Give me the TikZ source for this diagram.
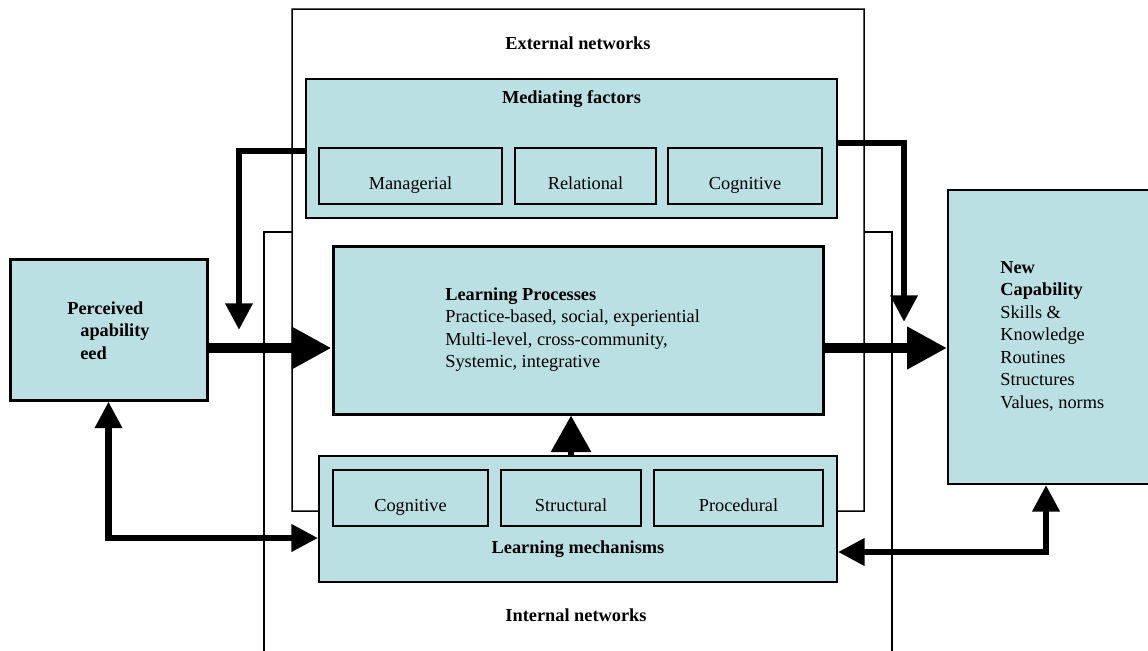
\documentclass[tikz,border=0pt]{standalone}
\usepackage{fontspec}
\setmainfont{Liberation Serif}
\usetikzlibrary{arrows.meta}
\definecolor{boxblue}{RGB}{187,224,227}

\begin{document}
\begin{tikzpicture}[
            x=0.6pt,
            y=-0.6pt,
            every node/.style={
                font=\fontsize{11}{13.5}\selectfont
            },
            box/.style={
                draw,
                fill=boxblue,
                line width=1.1pt,
                inner sep=0pt
            },
            subbox/.style={
                box,
                minimum height=33.6pt,
                text height=17pt,
                text depth=1.4pt
            },
            title/.style={
                font=\fontsize{11}{13.5}\selectfont\bfseries
            },
            frame/.style={line width=0.9pt},
            bigarrow/.style={
                line width=6.4pt,
                -{Triangle[length=24pt,width=24pt]}
            },
            fbarrow/.style={
                line width=4pt,
                -{Triangle[length=16pt,width=15.6pt]}
            },
            dblarrow/.style={
                line width=4pt,
                {Triangle[length=16pt,width=15.6pt]}-{Triangle[length=16pt,width=15.6pt]}
            },
            midarrow/.style={
                line width=4pt,
                -{Triangle[length=22pt,width=23.4pt]}
            }
        ]
            \useasboundingbox (0,0) rectangle (1148,650);

            \node[box, line width=1.8pt, minimum width=118.2pt, minimum height=84.6pt] (perc) at (108.5,329.5) {};
            \node[box, line width=0.9pt, minimum width=318.6pt, minimum height=83.4pt] (med) at (571.5,148.5) {};
            \node[subbox, minimum width=109.8pt] (manag) at (410.5,176) {Managerial};
            \node[subbox, minimum width=84.6pt] (relat) at (585.5,176) {Relational};
            \node[subbox, minimum width=92.4pt] (cogtop) at (745,176) {Cognitive};
            \node[box, line width=1.8pt, minimum width=294pt, minimum height=100.8pt] (lp) at (578,330) {};
            \node[box, minimum width=122.4pt, minimum height=176.4pt] (newcap) at (1050,337) {};
            \node[box, minimum width=310.8pt, minimum height=75.6pt] (mech) at (578,519) {};
            \node[subbox, minimum width=93pt] (cogbot) at (410.5,498) {Cognitive};
            \node[subbox, minimum width=84pt] (struct) at (571,498) {Structural};
            \node[subbox, minimum width=101.4pt] (proc) at (738.5,498) {Procedural};

            \node[title] (extt) at (578,43) {External networks};
            \node[title] (medt) at (571.5,99) {Mediating factors};
            \node[title] (mecht) at (578,549) {Learning mechanisms};
            \node[title] (intt) at (576,615) {Internal networks};
            \node[title, align=left, anchor=north west, inner sep=0pt] (perct) at (67,301)
                {Perceived\\\hspace*{7.8pt}apability\\\hspace*{7.8pt}eed};
            \node[align=left, anchor=north west, inner sep=0pt] (lpt) at (445,287)
                {\textbf{Learning Processes}\\Practice-based, social, experiential\\Multi-level, cross-community,\\Systemic, integrative};
            \node[align=left, anchor=north west, inner sep=0pt] (newt) at (1000,261)
                {\textbf{New}\\\textbf{Capability}\\Skills \&\\Knowledge\\Routines\\Structures\\Values, norms};

            \coordinate (extnw) at (292,9);
            \coordinate (extse) at (864,511);
            \coordinate (intnw) at (264,232);
            \coordinate (intne) at (892,232);
            \coordinate (bigy) at (0,348);
            \coordinate (fbltip) at (239,330);
            \coordinate (fbrtip) at (904,322);

            \draw[frame] ([yshift=4.8pt]mech.west) -| (extnw) -| (extse) -- ([yshift=4.8pt]mech.east);
            \draw[frame] (intnw -| extnw) -- (intnw) -- ++(0,420);
            \draw[frame] (intne -| extse) -- (intne) -- ++(0,420);

            \draw[bigarrow] (perc.east |- bigy) -- (lp.west |- bigy);
            \draw[bigarrow] (lp.east |- bigy) -- (newcap.west |- bigy);
            \draw[fbarrow] ([yshift=-1.5pt]med.west) -| (fbltip);
            \draw[fbarrow] ([yshift=3.3pt]med.east) -| (fbrtip);
            \draw[midarrow] ([xshift=-4.2pt]mech.north) -- ([xshift=-4.2pt]lp.south);
            \draw[dblarrow] (perc.south) |- ([yshift=-11.4pt]mech.west);
            \draw[dblarrow] ([yshift=-19.8pt]mech.east) -| ([xshift=-2.4pt]newcap.south);
        \end{tikzpicture}
\end{document}
